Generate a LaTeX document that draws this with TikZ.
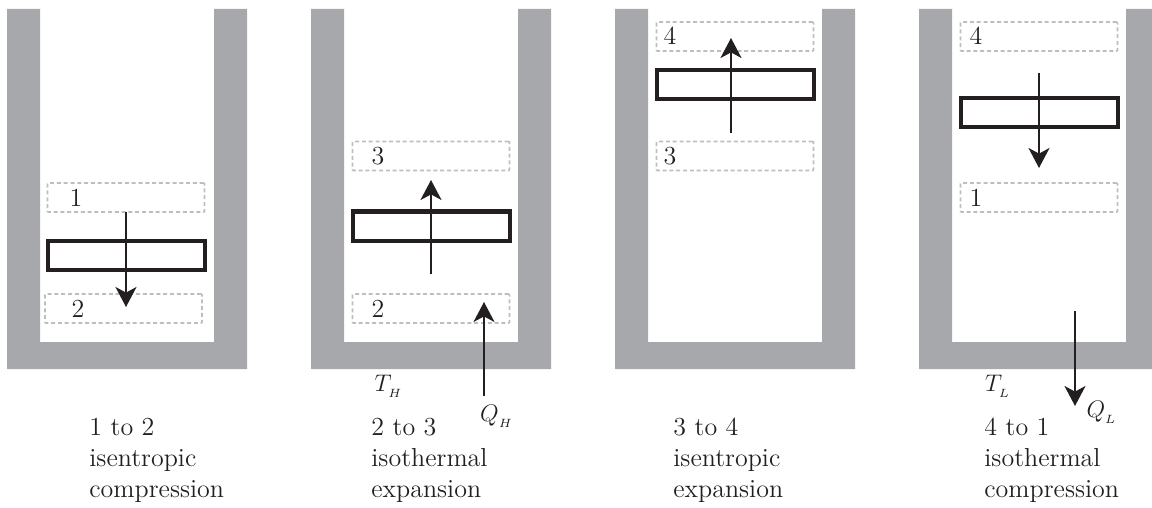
\documentclass[tikz,border=0pt]{standalone}
\usepackage{amsmath}
\usepackage{tikz}
\usetikzlibrary{positioning, arrows.meta}
\definecolor{wallgray}{HTML}{A7A8AB}
\definecolor{inkblack}{HTML}{231F20}
\definecolor{dashgray}{HTML}{BDBEC0}
\begin{document}
\begin{tikzpicture}[
			x=0.5pt, y=-0.5pt,
			wall/.style={fill=wallgray, draw=none},
			piston/.style={rectangle, draw=inkblack, line width=2pt, fill=white, minimum width=78.5pt, minimum height=14.5pt, inner sep=0pt},
			state/.style={rectangle, draw=dashgray, dash pattern=on 2pt off 1.4pt, line width=0.9pt, rounded corners=0.4pt, minimum width=78.5pt, minimum height=14.5pt, inner sep=0pt},
			num/.style={text=inkblack, font=\fontsize{13}{15}\selectfont, inner sep=0pt},
			caption/.style={text=inkblack, font=\fontsize{13}{15.5}\selectfont, align=left, anchor=north west, inner sep=0pt},
			heat/.style={text=inkblack, font=\fontsize{13}{15}\selectfont, inner sep=0pt},
			stroke/.style={-{Stealth[length=10pt, width=10.5pt, inset=2.8pt]}, line width=1pt, draw=inkblack}
			]
			\useasboundingbox (0,0) rectangle (1152,508);
			
			% cylinders
			\fill[wall] (7,9) -- (40,9) -- (40,342) -- (214,342) -- (214,9) -- (247,9) -- (247,369) -- (7,369) -- cycle;
			\fill[wall] (311,9) -- (344,9) -- (344,342) -- (518,342) -- (518,9) -- (551,9) -- (551,369) -- (311,369) -- cycle;
			\fill[wall] (615,9) -- (648,9) -- (648,342) -- (822,342) -- (822,9) -- (855,9) -- (855,369) -- (615,369) -- cycle;
			\fill[wall] (919,9) -- (952,9) -- (952,342) -- (1126,342) -- (1126,9) -- (1152,9) -- (1152,369) -- (919,369) -- cycle;
			
			% 1 to 2
			\node[state] (a1) at (126,197.5) {};
			\node[state] (a2) at (123.5,308.5) {};
			\node[piston] (pa) at (126.5,255.5) {};
			\node[num] (na1) at (76,198) {1};
			\node[num] (na2) at (78,309) {2};
			\coordinate (ta) at (126,212);
			\coordinate (ha) at (126,307);
			\draw[stroke] (ta) -- (ha);
			\node[caption] (ca) at (89,418) {1 to 2\\isentropic\\compression};
			
			% 2 to 3
			\node[state] (b3) at (431,156) {};
			\node[state] (b2) at (431,308.5) {};
			\node[piston] (pb) at (431,226) {};
			\node[num] (nb3) at (378,156) {3};
			\node[num] (nb2) at (378,309) {2};
			\coordinate (tb) at (431,274);
			\coordinate (hb) at (431,180);
			\draw[stroke] (tb) -- (hb);
			\coordinate (tqh) at (484,396);
			\coordinate (hqh) at (484,302);
			\draw[stroke] (tqh) -- (hqh);
			\node[heat] (th) at (389,386) {$T_{_H}$};
			\node[heat] (qh) at (497,416) {$Q_{_H}$};
			\node[caption] (cb) at (371,418) {2 to 3\\isothermal\\expansion};
			
			% 3 to 4
			\node[state] (c4) at (735,36.5) {};
			\node[state] (c3) at (735,156) {};
			\node[piston] (pc) at (735,85) {};
			\node[num] (nc4) at (670,36) {4};
			\node[num] (nc3) at (670,156) {3};
			\coordinate (tc) at (731,133);
			\coordinate (hc) at (731,38);
			\draw[stroke] (tc) -- (hc);
			\node[caption] (cc) at (673,418) {3 to 4\\isentropic\\expansion};
			
			% 4 to 1
			\node[state] (d4) at (1039,36.5) {};
			\node[state] (d1) at (1039,197.5) {};
			\node[piston] (pd) at (1039,113) {};
			\node[num] (nd4) at (976,36) {4};
			\node[num] (nd1) at (976,198) {1};
			\coordinate (td) at (1039,73);
			\coordinate (hd) at (1039,168);
			\draw[stroke] (td) -- (hd);
			\coordinate (tql) at (1075,311);
			\coordinate (hql) at (1075,406);
			\draw[stroke] (tql) -- (hql);
			\node[heat] (tl) at (998,386) {$T_{_L}$};
			\node[heat] (ql) at (1102,412) {$Q_{_L}$};
			\node[caption] (cd) at (984,418) {4 to 1\\isothermal\\compression};
		\end{tikzpicture}
\end{document}
